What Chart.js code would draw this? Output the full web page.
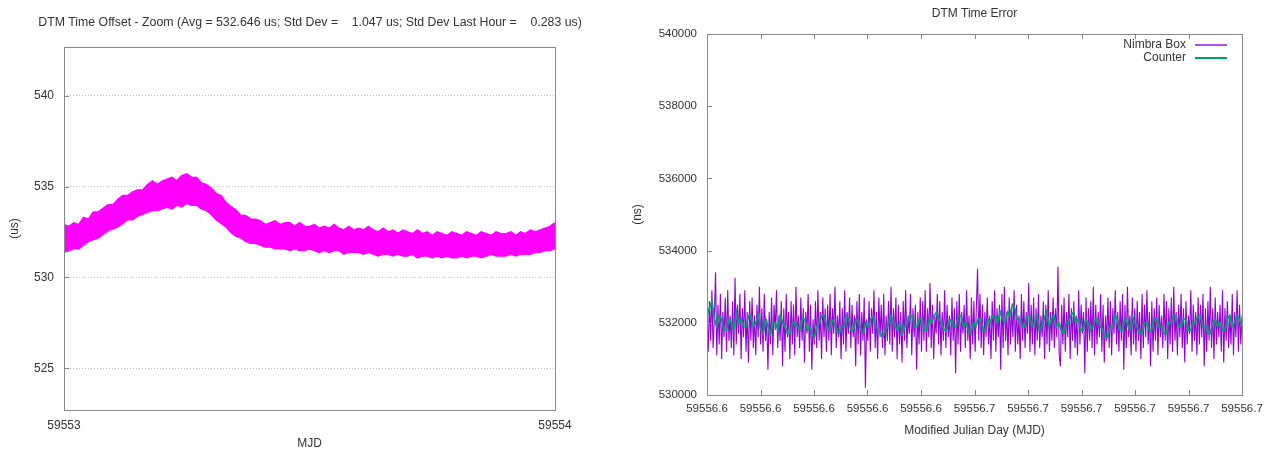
<!DOCTYPE html>
<html>
<head>
<meta charset="utf-8">
<script src="https://cdn.jsdelivr.net/npm/chart.js@4.4.0/dist/chart.umd.min.js"></script>
<style>
body { margin: 0; background: #fff; }
#offset { position: absolute; left: 0; top: 0; }
#error { position: absolute; left: 620px; top: 0; }
</style>
</head>
<body>
<canvas id="offset" width="620" height="452"></canvas>
<canvas id="error" width="654" height="452"></canvas>
<script>
// left chart: DTM time offset (us), band of points read as upper / lower edge
var offsetStart = 59553.0;
var offsetStep = 0.01;
var offsetUpper = [
  532.9, 532.8, 533.0, 532.9, 533.3, 533.2, 533.6, 533.6, 533.8, 534.0,
  534.0, 534.3, 534.5, 534.5, 534.7, 534.8, 534.8, 535.1, 535.3, 535.1,
  535.3, 535.4, 535.5, 535.3, 535.6, 535.7, 535.5, 535.5, 535.2, 535.1,
  534.9, 534.6, 534.5, 534.1, 533.9, 533.7, 533.4, 533.4, 533.2, 533.2,
  533.1, 532.9, 533.0, 533.1, 532.9, 533.0, 533.0, 532.8, 533.0, 532.8,
  532.8, 532.9, 532.7, 532.8, 532.7, 532.9, 532.7, 532.6, 532.8, 532.6,
  532.7, 532.6, 532.8, 532.6, 532.5, 532.7, 532.5, 532.6, 532.4, 532.6,
  532.5, 532.4, 532.6, 532.4, 532.5, 532.3, 532.5, 532.4, 532.3, 532.5,
  532.4, 532.3, 532.5, 532.4, 532.3, 532.5, 532.4, 532.3, 532.5, 532.4,
  532.4, 532.5, 532.3, 532.5, 532.4, 532.6, 532.5, 532.6, 532.7, 532.8,
  533.0
];
var offsetLower = [
  531.4, 531.5, 531.6, 531.6, 531.8, 532.0, 532.1, 532.2, 532.4, 532.6,
  532.7, 532.8, 533.0, 533.2, 533.2, 533.4, 533.5, 533.6, 533.7, 533.7,
  533.8, 533.9, 533.8, 534.0, 533.9, 534.1, 534.0, 534.0, 533.8, 533.7,
  533.5, 533.2, 533.0, 532.8, 532.5, 532.3, 532.2, 532.0, 531.9, 531.9,
  531.8, 531.7, 531.7, 531.6, 531.6, 531.6, 531.5, 531.6, 531.5, 531.5,
  531.6, 531.5, 531.4, 531.5, 531.4, 531.5, 531.5, 531.3, 531.4, 531.4,
  531.4, 531.3, 531.4, 531.3, 531.2, 531.3, 531.3, 531.2, 531.3, 531.2,
  531.2, 531.3, 531.1, 531.2, 531.2, 531.1, 531.2, 531.1, 531.2, 531.1,
  531.1, 531.2, 531.1, 531.2, 531.2, 531.1, 531.2, 531.3, 531.2, 531.2,
  531.2, 531.3, 531.2, 531.3, 531.3, 531.3, 531.4, 531.4, 531.5, 531.5,
  531.6
];
var offsetXTicks = [59553, 59554];
var offsetXLabels = ['59553', '59554'];
var offsetYTicks = [525, 530, 535, 540];
var offsetTitle = 'DTM Time Offset - Zoom (Avg = 532.646 us; Std Dev =    1.047 us; Std Dev Last Hour =    0.283 us)';

// right chart: DTM time error (ns)
var errorStart = 59556.60;
var errorEnd = 59556.70;
var nimbraBox = [
  532300, 531200, 532600, 531500, 532900, 531300, 532100, 533400, 531100, 532500,
  531400, 532800, 531000, 532300, 531600, 532700, 531200, 532900, 531500, 532200,
  531300, 532600, 531100, 533250, 531400, 532500, 531700, 532800, 531000, 532400,
  531600, 532900, 531200, 532300, 530900, 532600, 531500, 532700, 531300, 532200,
  531100, 532500, 531600, 533000, 531400, 532400, 531200, 532800, 531500, 532100,
  530700, 532300, 531400, 532700, 531100, 532500, 531800, 532900, 531300, 532200,
  531500, 532600, 530800, 532400, 531200, 532800, 531600, 532300, 531000, 532600,
  531400, 532500, 531100, 533000, 531600, 532200, 531300, 532700, 531500, 532400,
  530900, 532300, 531700, 532800, 531200, 532500, 530700, 532100, 531400, 532600,
  531300, 532900, 531500, 532300, 531000, 532700, 531600, 532400, 531200, 532500,
  531500, 532800, 531100, 532400, 531700, 533000, 531300, 532200, 531600, 532600,
  531000, 532400, 531400, 532900, 531200, 532300, 531700, 532700, 531300, 532500,
  531600, 532200, 530800, 532600, 531400, 532800, 531100, 532300, 531500, 532700,
  530200, 532100, 531500, 532600, 531200, 532400, 531700, 532900, 531300, 532300,
  531000, 532700, 531600, 532500, 531300, 532800, 531100, 532200, 531500, 532600,
  531400, 533000, 531200, 532400, 531600, 532700, 531000, 532500, 531400, 532300,
  530900, 532600, 531500, 532900, 531300, 532200, 531700, 532800, 531100, 532400,
  531600, 532500, 530700, 532300, 531400, 532700, 531200, 532600, 531500, 532900,
  531200, 532400, 531600, 533100, 531300, 532500, 531000, 532200, 531700, 532800,
  531400, 532600, 531100, 532300, 531500, 532900, 531300, 532500, 531600, 532200,
  531100, 532700, 531500, 532400, 530600, 532600, 531400, 532800, 531200, 532300,
  531700, 532500, 531300, 532900, 531500, 532200, 531000, 532700, 531400, 532600,
  531200, 532400, 533500, 531500, 532800, 531300, 532500, 531100, 532300, 531600,
  532700, 531400, 532200, 531000, 532600, 531500, 532900, 531200, 532400, 531600,
  532500, 530700, 532800, 531300, 533000, 531500, 532300, 531100, 532700, 531400,
  532400, 531600, 532900, 531200, 532500, 531400, 532200, 531000, 532800, 531500,
  532600, 531300, 532300, 531700, 533100, 531200, 532500, 531400, 532700, 531100,
  532400, 531500, 532800, 531300, 532200, 531600, 532600, 531000, 532500, 531400,
  532900, 531200, 532300, 531500, 532700, 531300, 532400, 531600, 533550, 531100,
  530800, 532500, 531400, 532700, 531200, 532300, 531600, 532800, 531000, 532400,
  531500, 532600, 531300, 532200, 531100, 532900, 531400, 532500, 531700, 532300,
  530600, 532700, 531200, 532400, 531500, 532600, 531300, 533000, 531100, 532500,
  531400, 532300, 531600, 532800, 531200, 532500, 530900, 532200, 531500, 532700,
  531300, 532600, 531100, 532400, 531700, 532900, 531400, 532300, 531200, 532600,
  531500, 532800, 530700, 532500, 531300, 533000, 531600, 532200, 531100, 532700,
  531400, 532400, 531200, 532600, 531500, 532300, 531000, 532800, 531300, 532500,
  531600, 532900, 531400, 532300, 530800, 532600, 531200, 532400, 531500, 532700,
  531100, 532500, 531600, 532200, 531300, 532800, 531500, 532600, 531000, 532400,
  531400, 532700, 531200, 533000, 531500, 532300, 531100, 532500, 531600, 532800,
  531300, 532400, 530900, 532600, 531400, 532200, 531700, 532900, 531200, 532500,
  531500, 532300, 531100, 532700, 531400, 532500, 531600, 532800, 530800, 532400,
  531200, 532600, 531500, 533000, 531300, 532400, 531000, 532700, 531400, 532300,
  531600, 532500, 531200, 532900, 530900, 532400, 531500, 532600, 531300, 532200,
  531400, 532800, 531100, 532300, 531600, 532900, 531200, 532500, 531400, 532200
];
var counter = [
  532200, 532400, 532600, 532100, 531900, 532200, 532100, 531800, 531800, 532100,
  532000, 531800, 532300, 532000, 532100, 531900, 531900, 532200, 532200, 531900,
  532000, 532200, 531800, 531700, 532100, 531900, 531700, 532000, 532000, 531800,
  532200, 532000, 531900, 531700, 531700, 532000, 532000, 531900, 531800, 532100,
  532100, 531800, 531900, 531700, 531600, 531900, 532000, 532200, 532200, 531900,
  531800, 532100, 532000, 531800, 531700, 531900, 531900, 532200, 532100, 531800,
  531800, 532100, 532000, 531800, 531700, 532000, 531900, 532100, 532200, 531900,
  531800, 531700, 531600, 531800, 531900, 532200, 532100, 531900, 531800, 532000,
  531700, 531900, 532000, 532200, 532200, 531900, 531900, 532100, 532100, 531800,
  531800, 532100, 532000, 532200, 532300, 532100, 532000, 531800, 531800, 532000,
  532100, 531900, 531900, 532200, 532200, 531900, 532000, 531800, 531700, 532000,
  531900, 532100, 532100, 531800, 531800, 532100, 532000, 532200, 532200, 532000,
  532300, 532100, 532000, 532300, 532200, 532500, 532400, 532100, 532100, 531900,
  531900, 532200, 532200, 531900, 532000, 532200, 531800, 531900, 532100, 532300,
  531900, 532100, 532200, 531900, 532000, 531800, 531700, 532000, 532000, 532200,
  532300, 532000, 532100, 531800, 531800, 532100, 532000, 531800, 531900, 532100,
  532100, 531900, 531800, 531600, 531600, 531900, 531900, 532200, 532100, 531800,
  531800, 532100, 532000, 531800, 532200, 532000, 531900, 531700, 531700, 532000,
  532000, 531800, 531800, 532100, 532100, 531900, 531900, 531700, 531700, 532000,
  532000, 532200, 532200, 531900, 531900, 532100, 532100, 531800, 531800, 532000,
  532000, 532200, 532200, 531900, 531900, 531700, 531700, 532000, 532100, 531900,
  532000, 531800, 531800, 532100, 532200, 531900, 532000, 532200, 532100, 531900
];
var errorXTicks = [59556.60, 59556.61, 59556.62, 59556.63, 59556.64, 59556.65,
  59556.66, 59556.67, 59556.68, 59556.69, 59556.70];
var errorXLabels = ['59556.6', '59556.6', '59556.6', '59556.6', '59556.6', '59556.7',
  '59556.7', '59556.7', '59556.7', '59556.7', '59556.7'];
var errorYTicks = [530000, 532000, 534000, 536000, 538000, 540000];

function evenSeries(values, start, end) {
  var n = values.length;
  return values.map(function (v, i) {
    return { x: start + (end - start) * i / (n - 1), y: v };
  });
}

Chart.defaults.font.family = '"Liberation Sans", Arial, sans-serif';
Chart.defaults.font.size = 12;
Chart.defaults.color = '#333';
Chart.defaults.animation = false;

// box round the plot and gnuplot-style ticks pointing inward
var framePlugin = {
  id: 'frame',
  afterDatasetsDraw: function (chart, args, opts) {
    var a = chart.chartArea, ctx = chart.ctx;
    var xs = chart.scales.x, ys = chart.scales.y;
    ctx.save();
    ctx.strokeStyle = '#888';
    ctx.lineWidth = 1;
    ctx.beginPath();
    ys.ticks.forEach(function (t) {
      var py = Math.round(ys.getPixelForValue(t.value)) + 0.5;
      ctx.moveTo(a.left, py);
      ctx.lineTo(a.left + 5, py);
    });
    if (opts.xTicks) {
      xs.ticks.forEach(function (t) {
        var px = Math.round(xs.getPixelForValue(t.value)) + 0.5;
        ctx.moveTo(px, a.bottom);
        ctx.lineTo(px, a.bottom - 5);
        ctx.moveTo(px, a.top);
        ctx.lineTo(px, a.top + 5);
      });
    }
    ctx.stroke();
    ctx.strokeRect(Math.round(a.left) + 0.5, Math.round(a.top) + 0.5,
      Math.round(a.width), Math.round(a.height));
    ctx.restore();
  }
};

// key drawn inside the plot, top right, text then line sample
var keyPlugin = {
  id: 'insideKey',
  afterDraw: function (chart, args, opts) {
    if (!opts.show) return;
    var a = chart.chartArea, ctx = chart.ctx;
    ctx.save();
    ctx.font = '12px "Liberation Sans", Arial, sans-serif';
    ctx.textAlign = 'right';
    ctx.textBaseline = 'middle';
    chart.data.datasets.forEach(function (ds, i) {
      var yy = a.top + 11 + i * 13;
      ctx.fillStyle = '#333';
      ctx.fillText(ds.label, a.right - 56, yy);
      ctx.strokeStyle = ds.keyColor || ds.borderColor;
      ctx.lineWidth = 2;
      ctx.beginPath();
      ctx.moveTo(a.right - 47, yy);
      ctx.lineTo(a.right - 15, yy);
      ctx.stroke();
    });
    ctx.restore();
  }
};

new Chart(document.getElementById('offset'), {
  type: 'line',
  data: {
    datasets: [{
      label: 'upper',
      data: evenSeries(offsetUpper, offsetStart, offsetStart + offsetStep * (offsetUpper.length - 1)),
      borderColor: '#ff00ff',
      borderWidth: 2,
      pointRadius: 0,
      fill: false
    }, {
      label: 'lower',
      data: evenSeries(offsetLower, offsetStart, offsetStart + offsetStep * (offsetLower.length - 1)),
      borderColor: '#ff00ff',
      backgroundColor: '#ff00ff',
      borderWidth: 2,
      pointRadius: 0,
      fill: '-1'
    }]
  },
  options: {
    responsive: false,
    devicePixelRatio: 1,
    layout: { padding: 0 },
    plugins: {
      legend: { display: false },
      tooltip: { enabled: false },
      title: {
        display: true,
        text: offsetTitle,
        fullSize: true,
        color: '#333',
        font: { size: 12.3, weight: 'normal' },
        padding: { top: 15, bottom: 17.2 }
      },
      frame: { xTicks: false },
      insideKey: { show: false }
    },
    scales: {
      x: {
        type: 'linear',
        min: 59553,
        max: 59554,
        afterFit: function (s) { s.height = 42; },
        afterBuildTicks: function (s) {
          s.ticks = offsetXTicks.map(function (v) { return { value: v }; });
        },
        ticks: {
          padding: 8,
          maxRotation: 0,
          callback: function (v, i) { return offsetXLabels[i]; }
        },
        grid: { display: false, drawTicks: false },
        border: { display: false },
        title: { display: true, text: 'MJD', padding: { top: 0, bottom: 1 } }
      },
      y: {
        min: 522.7,
        max: 542.7,
        afterFit: function (s) { s.width = 64; },
        afterBuildTicks: function (s) {
          s.ticks = offsetYTicks.map(function (v) { return { value: v }; });
        },
        ticks: {
          padding: 10,
          callback: function (v) { return String(v); }
        },
        grid: { color: '#bbb', drawTicks: false },
        border: { display: false, dash: [1, 2] },
        title: { display: true, text: '(us)', padding: { top: 7, bottom: 0 } }
      },
      // empty right margin so the title can centre on the full canvas
      yRight: {
        position: 'right',
        afterFit: function (s) { s.width = 65; },
        ticks: { display: false },
        grid: { display: false, drawTicks: false },
        border: { display: false }
      }
    }
  },
  plugins: [framePlugin, keyPlugin]
});

new Chart(document.getElementById('error'), {
  type: 'line',
  data: {
    datasets: [{
      label: 'Nimbra Box',
      data: evenSeries(nimbraBox, errorStart, errorEnd),
      borderColor: '#9400d3',
      keyColor: '#b552e6',
      borderWidth: 1.1,
      pointRadius: 0,
      order: 1
    }, {
      label: 'Counter',
      data: evenSeries(counter, errorStart, errorEnd),
      borderColor: '#009e73',
      borderWidth: 1.8,
      pointRadius: 0,
      order: 0
    }]
  },
  options: {
    responsive: false,
    devicePixelRatio: 1,
    layout: { padding: { left: 0, right: 32, top: 0, bottom: 0 } },
    plugins: {
      legend: { display: false },
      tooltip: { enabled: false },
      title: {
        display: true,
        text: 'DTM Time Error',
        fullSize: false,
        color: '#333',
        font: { size: 12, weight: 'normal' },
        padding: { top: 6, bottom: 13.6 }
      },
      frame: { xTicks: true },
      insideKey: { show: true }
    },
    scales: {
      x: {
        type: 'linear',
        min: errorStart,
        max: errorEnd,
        afterFit: function (s) { s.height = 57; },
        afterBuildTicks: function (s) {
          s.ticks = errorXTicks.map(function (v) { return { value: v }; });
        },
        ticks: {
          padding: 7,
          maxRotation: 0,
          autoSkip: false,
          font: { size: 11.5 },
          callback: function (v, i) { return errorXLabels[i]; }
        },
        grid: { display: false, drawTicks: false },
        border: { display: false },
        title: { display: true, text: 'Modified Julian Day (MJD)', padding: { top: 0, bottom: 14 } }
      },
      y: {
        min: 530000,
        max: 540000,
        afterFit: function (s) { s.width = 87; },
        afterBuildTicks: function (s) {
          s.ticks = errorYTicks.map(function (v) { return { value: v }; });
        },
        ticks: {
          padding: 10,
          font: { size: 11.5 },
          callback: function (v) { return String(v); }
        },
        grid: { display: false, drawTicks: false },
        border: { display: false },
        title: { display: true, text: '(ns)', padding: { top: 10, bottom: 0 } }
      }
    }
  },
  plugins: [framePlugin, keyPlugin]
});
</script>
</body>
</html>
